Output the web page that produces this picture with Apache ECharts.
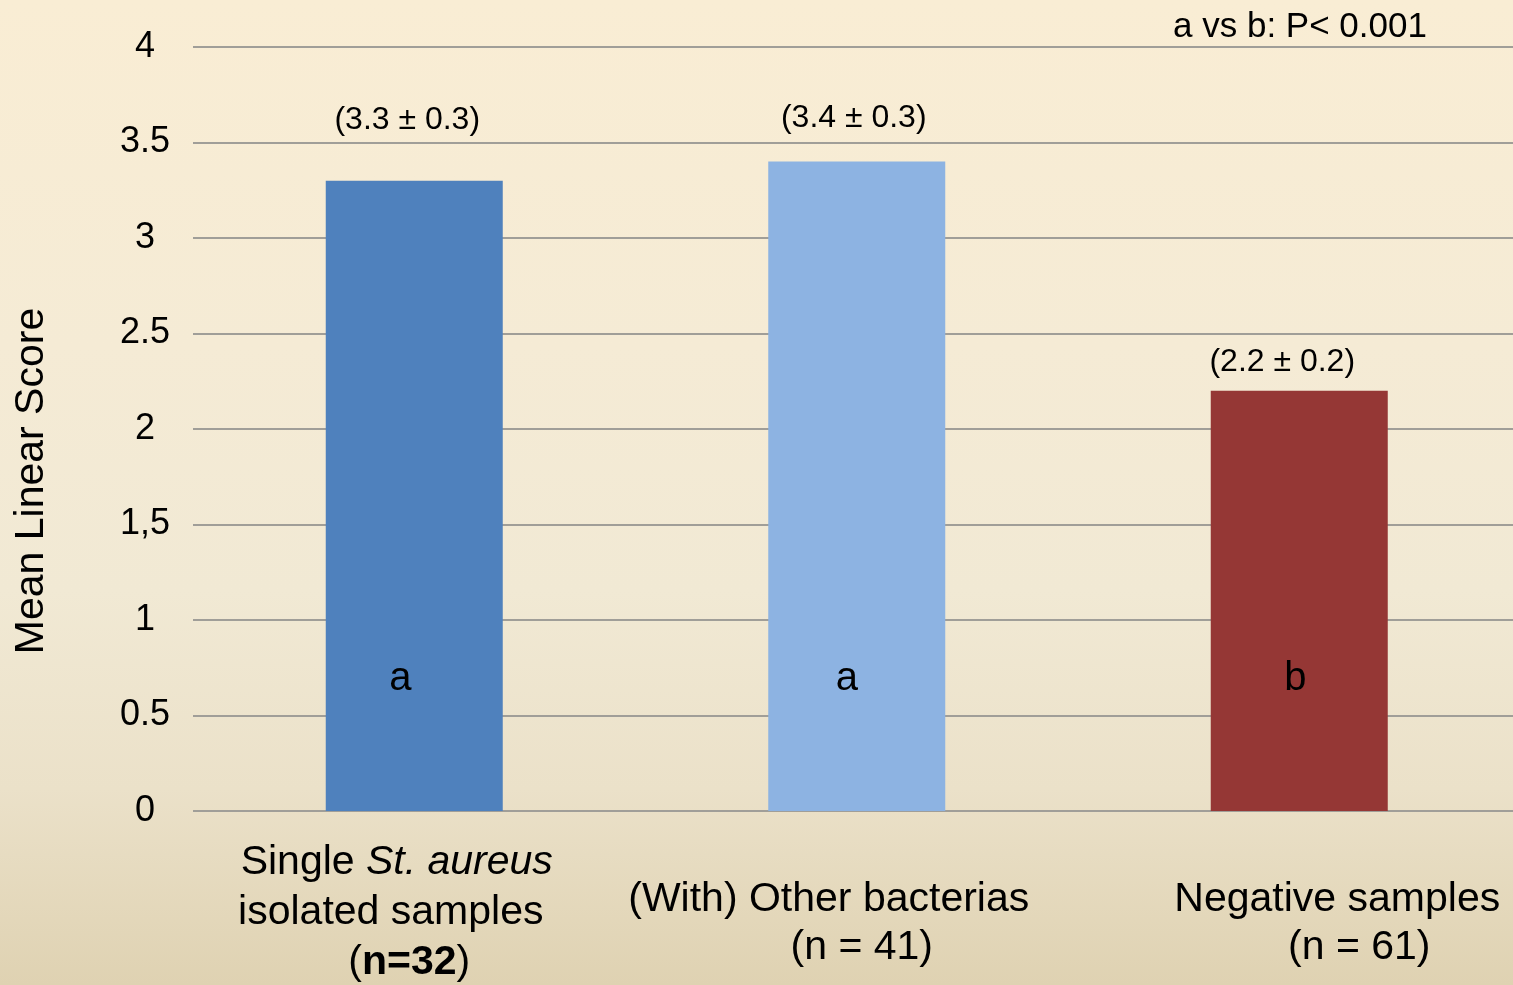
<!DOCTYPE html>
<html>
<head>
<meta charset="utf-8">
<script src="https://cdn.jsdelivr.net/npm/echarts@6/dist/echarts.min.js"></script>
<style>
  html, body { margin: 0; padding: 0; }
  #chart {
    width: 1513px; height: 985px;
    background: linear-gradient(to bottom, #f9edd4 0%, #f5ebd5 35%, #f1e9d4 60%, #ebe1c9 80%, #dfd2b2 100%);
  }
</style>
</head>
<body>
<div id="chart"></div>
<script>
// ---- data ----
const categories = ['Single St. aureus isolated samples (n=32)', '(With) Other bacterias (n = 41)', 'Negative samples (n = 61)'];
const meanScores = [3.3, 3.4, 2.2];
const scoreLabels = ['(3.3 ± 0.3)', '(3.4 ± 0.3)', '(2.2 ± 0.2)'];
const groupLetters = ['a', 'a', 'b'];
const yTickLabels = ['0', '0.5', '1', '1,5', '2', '2.5', '3', '3.5', '4'];
const noteText = 'a vs b: P< 0.001';
const yAxisTitle = 'Mean Linear Score';

// ---- styles ----
const barColors = ['#4f81bd', '#8db3e2', '#953735'];
const scoreLabelDistance = [45, 27, 13];
const scoreLabelOffsetX = [-7, -3, -17];
const letterOffsetX = [-14, -10, -4];
const FONT = '"Liberation Sans", Arial, sans-serif';

const catRich = [
  '{l1a|Single }{l1i|St. aureus}\n{l1b|isolated samples}\n{l1p|(}{l1n|n=32}{l1q|)}',
  '{sp| }\n{l2a|(With) Other bacterias}\n{l2b|(n = 41)}',
  '{sp| }\n{l3a|Negative samples}\n{l3b|(n = 61)}'
];

const base = { fontSize: 41, fontFamily: FONT, color: '#000', align: 'center' };
const L1 = Object.assign({}, base, { lineHeight: 50 });
const L2 = Object.assign({}, base, { lineHeight: 48 });

const chart = echarts.init(document.getElementById('chart'), null, { renderer: 'canvas' });

chart.setOption({
  backgroundColor: 'transparent',
  animation: false,
  title: {
    text: noteText,
    left: 1173, top: 10, padding: 0,
    textStyle: { fontSize: 35, fontWeight: 'normal', fontFamily: FONT, color: '#000', lineHeight: 35 }
  },
  grid: { left: 193, right: -7.5, top: 47, bottom: 174, containLabel: false, outerBoundsMode: 'none' },
  xAxis: {
    type: 'category',
    data: categories,
    axisLine: { show: false },
    axisTick: { show: false },
    axisLabel: {
      interval: 0,
      margin: 27,
      verticalAlign: 'top',
      formatter: (v, i) => catRich[i],
      rich: {
        sp: Object.assign({}, base, { fontSize: 2, lineHeight: 38 }),
        l1a: Object.assign({}, L1),
        l1i: Object.assign({}, L1, { fontStyle: 'italic', padding: [0, 35, 0, 0] }),
        l1b: Object.assign({}, L1, { padding: [0, 47, 0, 0] }),
        l1p: Object.assign({}, L1),
        l1n: Object.assign({}, L1, { fontWeight: 'bold' }),
        l1q: Object.assign({}, L1, { padding: [0, 10, 0, 0] }),
        l2a: Object.assign({}, L2, { padding: [0, 56, 0, 0] }),
        l2b: Object.assign({}, L2, { padding: [0, 0, 0, 10] }),
        l3a: Object.assign({}, L2, { padding: [0, 0, 0, 76] }),
        l3b: Object.assign({}, L2, { padding: [0, 0, 0, 120] })
      }
    }
  },
  yAxis: {
    type: 'value',
    min: 0, max: 4, interval: 0.5,
    name: yAxisTitle,
    nameLocation: 'middle',
    nameRotate: 90,
    nameGap: 141,
    nameMoveOverlap: false,
    nameTextStyle: { fontSize: 41, lineHeight: 41, fontFamily: FONT, color: '#000', padding: [0, 104, 0, 0] },
    axisLine: { show: false },
    axisTick: { show: false },
    axisLabel: {
      margin: 48,
      align: 'center',
      fontSize: 36,
      fontFamily: FONT,
      color: '#000',
      formatter: (v, i) => yTickLabels[i]
    },
    splitLine: { lineStyle: { color: '#a09e98', width: 2 } }
  },
  series: [
    {
      type: 'bar',
      barWidth: 177,
      barGap: '-100%',
      data: meanScores.map((v, i) => ({
        value: v,
        itemStyle: { color: barColors[i] },
        label: {
          show: true,
          position: 'top',
          distance: scoreLabelDistance[i],
          offset: [scoreLabelOffsetX[i], 0],
          formatter: scoreLabels[i],
          fontSize: 32,
          lineHeight: 32,
          fontFamily: FONT,
          color: '#000'
        }
      }))
    },
    {
      type: 'bar',
      barWidth: 177,
      barGap: '-100%',
      silent: true,
      itemStyle: { color: 'rgba(0,0,0,0)' },
      data: meanScores.map((v, i) => ({
        value: v,
        label: {
          show: true,
          position: 'insideBottom',
          distance: 112,
          offset: [letterOffsetX[i], 0],
          formatter: groupLetters[i],
          fontSize: 40,
          lineHeight: 40,
          fontFamily: FONT,
          color: '#000'
        }
      }))
    }
  ]
});
</script>
</body>
</html>
